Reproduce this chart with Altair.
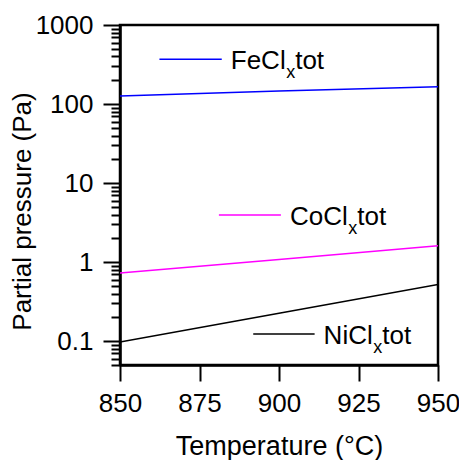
import altair as alt
import pandas as pd

# ---- data ----
temps = [850, 900, 950]
fe_vals = [126, 146, 165]
co_vals = [0.73, 1.08, 1.61]
ni_vals = [0.098, 0.226, 0.52]

series_names = ["FeClxtot", "CoClxtot", "NiClxtot"]
series_colors = ["#0000ff", "#ff00ff", "#000000"]

# in-plot legend annotations (data coordinates)
leg_main = ["FeCl", "CoCl", "NiCl"]
leg_x1 = [862.4, 881.1, 891.9]
leg_x2 = [882.0, 900.6, 911.2]
leg_y = [368, 3.95, 0.123]

x_tick_values = [850, 862.5, 875, 887.5, 900, 912.5, 925, 937.5, 950]
y_major = [0.1, 1, 10, 100, 1000]
y_major_labels = ["0.1", "1", "10", "100", "1000"]
y_minor = [0.05, 0.06, 0.07, 0.08, 0.09,
           0.2, 0.3, 0.4, 0.5, 0.6, 0.7, 0.8, 0.9,
           2, 3, 4, 5, 6, 7, 8, 9,
           20, 30, 40, 50, 60, 70, 80, 90,
           200, 300, 400, 500, 600, 700, 800, 900]

FONT = "Liberation Sans"

rows = []
for name, vals in zip(series_names, [fe_vals, co_vals, ni_vals]):
    for t, v in zip(temps, vals):
        rows.append({"series": name, "T": t, "P": v})
df = pd.DataFrame(rows)

y_test = " || ".join(f"datum.value == {v}" for v in y_major)
y_label_expr = "".join(f"datum.value == {v} ? '{l}' : " for v, l in zip(y_major, y_major_labels)) + "''"

x_scale = alt.Scale(domain=[850, 950], nice=False, zero=False)
y_scale = alt.Scale(type="log", domain=[0.05, 1000], nice=False)

x_axis = alt.Axis(
    title="Temperature (°C)", values=x_tick_values,
    labelExpr="datum.value % 25 == 0 ? datum.label : ''",
    tickSize={"condition": {"test": "datum.value % 25 == 0", "value": 16}, "value": 8},
    labelFlush=False, labelOverlap=False, grid=False,
    labelFontSize=26, titleFontSize=27, titleFontWeight="normal",
    labelPadding=9, titlePadding=17,
    domainColor="black", tickColor="black", labelColor="black", titleColor="black",
    domainWidth=2.5, tickWidth=2, labelFont=FONT, titleFont=FONT,
)
y_axis = alt.Axis(
    title="Partial pressure (Pa)", values=y_major + y_minor,
    labelExpr=y_label_expr,
    tickSize={"condition": {"test": y_test, "value": 17}, "value": 9},
    labelFlush=False, labelOverlap=False, grid=False,
    labelFontSize=26, titleFontSize=26, titleFontWeight="normal",
    labelPadding=10, titlePadding=0, titleY=186,
    domainColor="black", tickColor="black", labelColor="black", titleColor="black",
    domainWidth=2.5, tickWidth=2, labelFont=FONT, titleFont=FONT,
)

lines = alt.Chart(df).mark_line(strokeWidth=1.5, clip=True).encode(
    x=alt.X("T:Q", scale=x_scale, axis=x_axis),
    y=alt.Y("P:Q", scale=y_scale, axis=y_axis),
    color=alt.Color("series:N", scale=alt.Scale(domain=series_names, range=series_colors), legend=None),
)

layers = [lines]
main_w = {"FeCl": 54.9, "CoCl": 57.8, "NiCl": 49.1}
for name, x1, x2, y, col in zip(leg_main, leg_x1, leg_x2, leg_y, series_colors):
    d = pd.DataFrame({"x1": [x1], "x2": [x2], "y": [y]})
    base = alt.Chart(d)
    layers.append(base.mark_rule(color=col, strokeWidth=1.5).encode(
        x=alt.X("x1:Q", scale=x_scale), x2="x2:Q", y=alt.Y("y:Q", scale=y_scale)))
    w = main_w[name]
    enc = dict(x=alt.X("x2:Q", scale=x_scale), y=alt.Y("y:Q", scale=y_scale))
    layers.append(base.mark_text(text=name, align="left", baseline="alphabetic", dx=9, dy=10,
                                 fontSize=26, font=FONT, color="black").encode(**enc))
    layers.append(base.mark_text(text="x", align="left", baseline="alphabetic", dx=9 + w + 0.5, dy=19,
                                 fontSize=18, font=FONT, color="black").encode(**enc))
    layers.append(base.mark_text(text="tot", align="left", baseline="alphabetic", dx=9 + w + 9.5, dy=10,
                                 fontSize=26, font=FONT, color="black").encode(**enc))

chart = alt.layer(*layers).properties(
    width=318, height=340,
    autosize=alt.AutoSizeParams(type="none"),
    padding={"left": 112, "top": 17, "right": 21, "bottom": 95},
).configure_view(stroke="black", strokeWidth=2.5)

chart.save("out.html", embed_options={"renderer": "svg", "actions": False})
